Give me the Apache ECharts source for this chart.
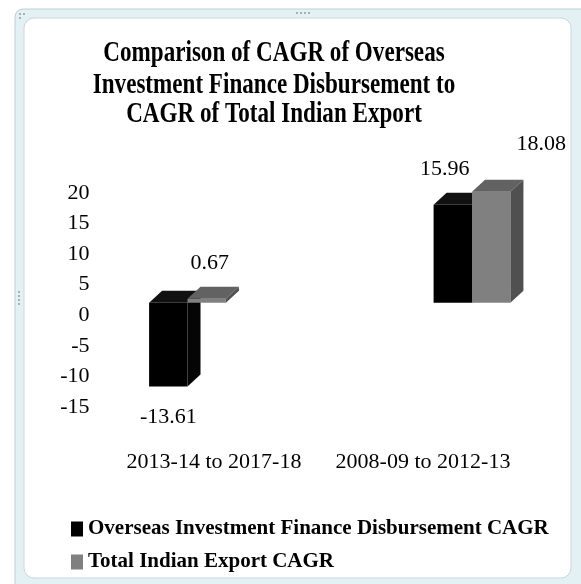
<!DOCTYPE html>
<html>
<head>
<meta charset="utf-8">
<title>CAGR comparison</title>
<script src="https://cdn.jsdelivr.net/npm/echarts@6/dist/echarts.min.js"></script>
<style>
  html, body { margin: 0; padding: 0; background: #ffffff; }
  #chart { width: 581px; height: 584px; }
</style>
</head>
<body>
<div id="chart"></div>
<script>
// ---- data ----
const categories = ['2013-14 to 2017-18', '2008-09 to 2012-13'];
const overseasInvestmentCagr = [-13.61, 15.96];
const totalExportCagr = [0.67, 18.08];
const seriesNames = ['Overseas Investment Finance Disbursement CAGR', 'Total Indian Export CAGR'];
const titleLines = ['Comparison of CAGR of Overseas', 'Investment Finance Disbursement to', 'CAGR of Total Indian Export'];
const valueMin = -15;
const valueMax = 20;
const valueStep = 5;

// ---- look ----
const SERIF = '"Liberation Serif", "Times New Roman", serif';
const DEPTH_X = 13;          // 3D depth, pixels to the right
const DEPTH_Y = 12;          // 3D depth, pixels upward
const BAR_RATIO = 0.135;     // bar width as a share of the category spacing
const faceColors = [
  { front: '#000000', top: '#111111', side: '#050505' },
  { front: '#808080', top: '#626262', side: '#505050' }
];
// hand-placed label nudges, keyed "series-category"
const labelNudge = { '0-1': [-8, 0], '1-1': [50, -12], '1-0': [3, 0] };

function bar3d(params, api) {
  const cat = api.value(0);
  const v = api.value(1);
  const base = api.coord([cat, 0]);
  const tip = api.coord([cat, v]);
  const band = api.size([1, 0])[0];
  const w = band * BAR_RATIO;
  const s = params.seriesIndex;
  const x0 = base[0] - w + s * w;
  const x1 = x0 + w;
  const yHigh = Math.min(base[1], tip[1]);
  const yLow = Math.max(base[1], tip[1]);
  const c = faceColors[s];
  const nudge = labelNudge[s + '-' + cat] || [0, 0];
  const cx = x0 + w / 2;
  const labelY = v >= 0 ? yHigh - DEPTH_Y - 24 : yLow + 31;
  return {
    type: 'group',
    children: [
      { type: 'rect', shape: { x: x0, y: yHigh, width: w, height: Math.max(yLow - yHigh, 1) },
        style: { fill: c.front } },
      { type: 'polygon', shape: { points: [[x0, yHigh], [x1, yHigh], [x1 + DEPTH_X, yHigh - DEPTH_Y], [x0 + DEPTH_X, yHigh - DEPTH_Y]] },
        style: { fill: c.top } },
      { type: 'polygon', shape: { points: [[x1, yHigh], [x1 + DEPTH_X, yHigh - DEPTH_Y], [x1 + DEPTH_X, yLow - DEPTH_Y], [x1, yLow]] },
        style: { fill: c.side } },
      { type: 'text', z2: 10,
        style: { text: v.toFixed(2), x: cx + nudge[0], y: labelY + nudge[1],
                 align: 'center', verticalAlign: 'middle',
                 font: '22px ' + SERIF, fill: '#000000' } }
    ]
  };
}

function toItems(values) {
  return values.map((v, i) => [i, v]);
}

// window frame and grip dots around the chart area
const frame = [
  { type: 'rect', z: 0, shape: { x: 15, y: 9, width: 580, height: 590, r: 8 },
    style: { fill: '#e4f1f4', stroke: '#bccfd5', lineWidth: 1 } },
  { type: 'rect', z: 0, shape: { x: 24, y: 18, width: 547, height: 560, r: 10 },
    style: { fill: '#ffffff', stroke: '#c7d8dd', lineWidth: 1 } }
];
const grips = [[20, 14], [24, 14], [20, 18], [297, 13], [301, 13], [305, 13], [309, 13],
               [19, 292], [19, 296], [19, 300], [19, 304]];
grips.forEach(p => frame.push({ type: 'circle', z: 1, shape: { cx: p[0], cy: p[1], r: 1 },
  style: { fill: '#8c9da3' } }));

const titleCenters = [53, 85, 114.5];
const titleText = titleLines.map((line, i) => ({
  type: 'text', z: 5, x: 274, y: titleCenters[i], scaleX: 0.77, scaleY: 1,
  style: { text: line, x: 0, y: 0, align: 'center', verticalAlign: 'middle',
           font: 'bold 30px ' + SERIF, fill: '#000000' }
}));

const chart = echarts.init(document.getElementById('chart'), null, { renderer: 'canvas' });
chart.setOption({
  animation: false,
  backgroundColor: '#ffffff',
  graphic: { elements: frame.concat(titleText) },
  legend: {
    orient: 'vertical', left: 71, top: 518, padding: 0,
    icon: 'rect', itemWidth: 12, itemHeight: 15, itemGap: 11,
    data: seriesNames,
    textStyle: { fontFamily: SERIF, fontWeight: 'bold', fontSize: 21, lineHeight: 22, color: '#000000' }
  },
  grid: [
    // plotting box for the 3D bars (front faces); categories sit on its edges
    { left: 187.5, top: 180, width: 284.5, height: 215 },
    // box that carries the visible axis labels
    { left: 109.5, top: 193, width: 418, height: 214 }
  ],
  xAxis: [
    { type: 'category', gridIndex: 0, data: categories, boundaryGap: false, show: false },
    { type: 'category', gridIndex: 1, data: categories,
      axisLine: { show: false }, axisTick: { show: false },
      axisLabel: { interval: 0, margin: 44, fontFamily: SERIF, fontSize: 22, color: '#000000' } }
  ],
  yAxis: [
    { type: 'value', gridIndex: 0, min: valueMin, max: valueMax, interval: valueStep, show: false },
    { type: 'value', gridIndex: 1, min: valueMin, max: valueMax, interval: valueStep,
      axisLine: { show: false }, axisTick: { show: false }, splitLine: { show: false },
      axisLabel: { margin: 20, fontFamily: SERIF, fontSize: 22, color: '#000000' } }
  ],
  series: [
    { name: seriesNames[0], type: 'custom', xAxisIndex: 0, yAxisIndex: 0,
      itemStyle: { color: '#000000' }, renderItem: bar3d, clip: false,
      encode: { x: 0, y: 1 }, data: toItems(overseasInvestmentCagr) },
    { name: seriesNames[1], type: 'custom', xAxisIndex: 0, yAxisIndex: 0,
      itemStyle: { color: '#808080' }, renderItem: bar3d, clip: false,
      encode: { x: 0, y: 1 }, data: toItems(totalExportCagr) }
  ]
});
</script>
</body>
</html>
